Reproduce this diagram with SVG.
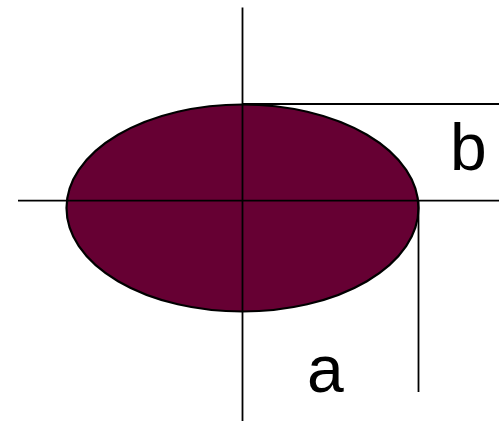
<svg xmlns="http://www.w3.org/2000/svg" width="502" height="423" viewBox="0 0 502 423">
<style>
.ln{stroke:#000;stroke-width:1.8;fill:none}
.lbl{font-family:"Liberation Sans",Arial,sans-serif;font-size:66px;fill:#000}
</style>
<rect width="502" height="423" fill="#fff"/>
<g id="ellipse">
<ellipse cx="242.5" cy="208" rx="176" ry="103.5" fill="#660033" stroke="#000" stroke-width="2.2"/>
</g>
<g id="connectors">
<line class="ln" x1="18" y1="200.7" x2="499" y2="200.7"/>
<line class="ln" x1="242.5" y1="7.5" x2="242.5" y2="421"/>
<line class="ln" x1="242.5" y1="104" x2="499" y2="104"/>
<line class="ln" x1="418.5" y1="200.7" x2="418.5" y2="392"/>
</g>
<g id="label-b"><text class="lbl" x="450" y="170">b</text></g>
<g id="label-a"><text class="lbl" x="307" y="392">a</text></g>
</svg>
